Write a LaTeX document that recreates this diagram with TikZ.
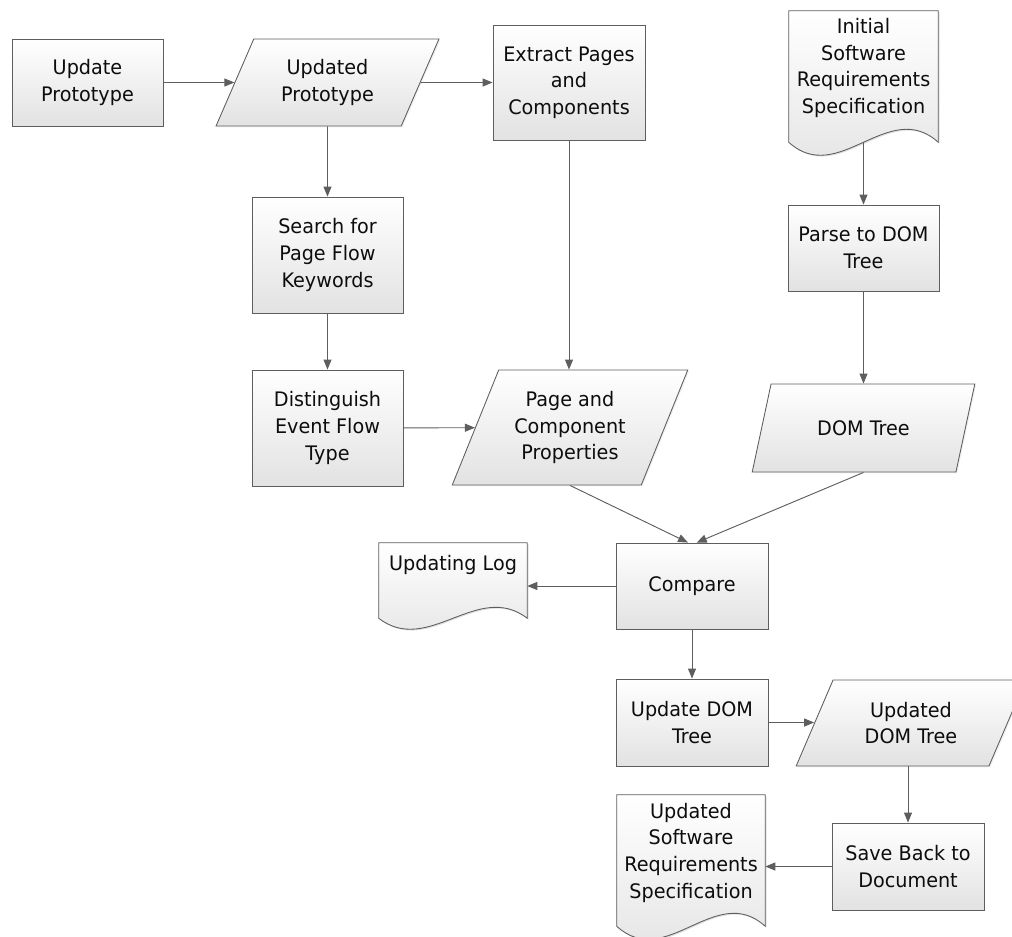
\documentclass[tikz,border=0pt]{standalone}
\usepackage{fontspec}
\setmainfont{DejaVu Sans}[FakeStretch=0.96]
\usetikzlibrary{arrows.meta,shapes.geometric,shadows,calc}
\pgfdeclarelayer{background}
\pgfsetlayers{background,main}
\definecolor{edge}{HTML}{5E5E5E}
\definecolor{fillbot}{HTML}{E2E2E2}
\tikzset{
  base/.style={draw=edge, line width=0.65pt, top color=white, bottom color=fillbot,
    align=center, inner sep=2pt,
    drop shadow={shadow xshift=1pt, shadow yshift=-1pt, opacity=0.12}},
  proc/.style={base, rectangle, minimum width=114pt},
  data/.style={base, trapezium, trapezium left angle=64, trapezium right angle=116,
    trapezium stretches=true},
  docnode/.style={rectangle, inner sep=0pt},
  doctext/.style={align=center},
  flow/.style={draw=edge, line width=0.7pt, -{Triangle[length=7.5pt,width=6pt]}},
}
% document symbol: straight top and sides, wavy bottom edge
\newcommand\docshape[2]{%
  \begin{pgfonlayer}{background}
    \path[fill=black, opacity=0.12]
      ($(#1.north west)+(1.3,1.3)$) -- ($(#1.north east)+(1.3,1.3)$) -- ($(#1.south east)+(1.3,1.3)$)
      .. controls ($(#1.south east)!0.333!(#1.south west)+(1.3,1.3-#2)$)
      and ($(#1.south west)!0.333!(#1.south east)+(1.3,1.3+#2)$)
      .. ($(#1.south west)+(1.3,1.3)$) -- cycle;
    \path[draw=edge, line width=0.65pt, top color=white, bottom color=fillbot]
      (#1.north west) -- (#1.north east) -- (#1.south east)
      .. controls ($(#1.south east)!0.333!(#1.south west)+(0,-#2)$)
      and ($(#1.south west)!0.333!(#1.south east)+(0,#2)$)
      .. (#1.south west) -- cycle;
  \end{pgfonlayer}}

\begin{document}
\begin{tikzpicture}[x=0.75pt, y=-0.75pt,
  every node/.append style={font=\fontsize{15}{20}\selectfont, text=black!95}]
\useasboundingbox (0,0) rectangle (1012,936);

% left branch: prototype processing
\node[proc, minimum width=113.25pt, minimum height=65.25pt] (uproto) at (87.5,82.5) {Update\\Prototype};
\node[data, minimum width=167.25pt, minimum height=65.25pt] (updp) at (327.5,82.5) {Updated\\Prototype};
\node[proc, minimum height=86.25pt] (extract) at (569,82.5) {Extract Pages\\and\\Components};
\node[proc, minimum width=113.25pt, minimum height=87pt] (search) at (327.5,255) {Search for\\Page Flow\\Keywords};
\node[proc, minimum width=113.25pt, minimum height=87pt] (dist) at (327.5,428) {Distinguish\\Event Flow\\Type};
\node[data, minimum width=177pt, minimum height=86.25pt] (pagecomp) at (570,427.5) {Page and\\Component\\Properties};

% right branch: specification parsing
\node[docnode, minimum width=111.75pt, minimum height=98.25pt,
  label={[doctext, yshift=6.4pt]center:Initial\\Software\\Requirements\\Specification}] (isrs) at (863.5,76.5) {};
\node[proc, minimum width=113.25pt, minimum height=64.5pt] (parse) at (863.5,248) {Parse to DOM\\Tree};
\node[data, minimum width=167.25pt, minimum height=66pt] (domtree) at (863.5,428) {DOM Tree};

% comparison and update
\node[proc, minimum height=64.5pt] (compare) at (692,586) {Compare};
\node[docnode, minimum width=111pt, minimum height=56.25pt,
  label={[doctext, yshift=11.6pt]center:Updating Log}] (log) at (453,580.5) {};
\node[proc, minimum height=65.25pt] (updom) at (692,722.5) {Update DOM\\Tree};
\node[data, minimum width=172.5pt, minimum height=64.5pt] (updDom) at (911,723) {Updated\\DOM Tree};
\node[proc, minimum height=65.25pt] (save) at (908,866.5) {Save Back to\\Document};
\node[docnode, minimum width=111pt, minimum height=98.25pt,
  label={[doctext, yshift=6pt]center:Updated\\Software\\Requirements\\Specification}] (usrs) at (691,860.5) {};

\docshape{isrs}{45}
\docshape{log}{38}
\docshape{usrs}{45}

% connectors
\draw[flow] (uproto) -- (updp);
\draw[flow] (updp) -- (extract);
\draw[flow] (updp) -- (search);
\draw[flow] (search) -- (dist);
\draw[flow] (dist) -- (pagecomp);
\draw[flow] (extract.south) -- (extract.south |- pagecomp.north);
\draw[flow] (isrs.south) -- (isrs.south |- parse.north);
\draw[flow] (parse.south) -- (parse.south |- domtree.north);
\draw[flow] (pagecomp.south) -- ([xshift=-3pt]compare.north);
\draw[flow] (domtree.south) -- ([xshift=3.5pt]compare.north);
\draw[flow] (compare.west) -- (compare.west -| log.east);
\draw[flow] (compare) -- (updom);
\draw[flow] (updom.east) -- (updom.east -| updDom.west);
\draw[flow] (save.north |- updDom.south) -- (save.north);
\draw[flow] (save.west) -- (save.west -| usrs.east);
\end{tikzpicture}
\end{document}
